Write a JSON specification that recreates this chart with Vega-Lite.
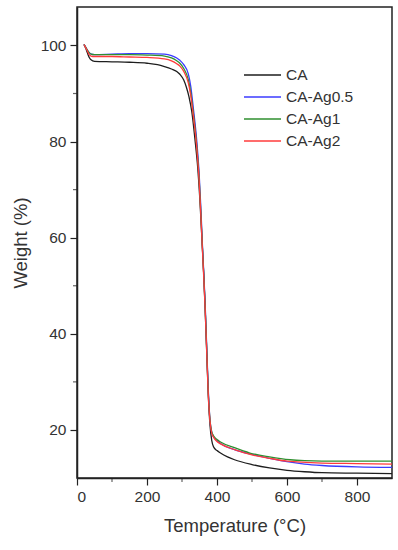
{
  "$schema": "https://vega.github.io/schema/vega-lite/v6.json",
  "autosize": "none",
  "padding": {"left": 77, "top": 7, "right": 6, "bottom": 72},
  "width": 315,
  "height": 471,
  "background": "white",
  "config": {
    "view": {"stroke": "#222", "strokeWidth": 1.5},
    "font": "Liberation Sans",
    "axis": {
      "domainColor": "#222",
      "domainWidth": 1.5,
      "tickColor": "#222",
      "tickWidth": 1.2,
      "tickSize": 7,
      "labelFontSize": 15.5,
      "labelColor": "#333",
      "titleFontSize": 18.5,
      "titleFontWeight": "normal",
      "titleColor": "#333",
      "grid": false
    }
  },
  "datasets": {
    "tga": [
      {"s":"CA","t":20,"w":100.2},{"s":"CA","t":25,"w":99.4},{"s":"CA","t":30,"w":98.4},{"s":"CA","t":35,"w":97.5},{"s":"CA","t":40,"w":97.0},{"s":"CA","t":50,"w":96.7},{"s":"CA","t":100,"w":96.6},{"s":"CA","t":150,"w":96.5},{"s":"CA","t":200,"w":96.3},{"s":"CA","t":230,"w":96.0},{"s":"CA","t":250,"w":95.6},{"s":"CA","t":270,"w":95.1},{"s":"CA","t":285,"w":94.6},{"s":"CA","t":294,"w":94.0},{"s":"CA","t":305,"w":92.8},{"s":"CA","t":313,"w":91.2},{"s":"CA","t":320,"w":89.3},{"s":"CA","t":328,"w":86.2},{"s":"CA","t":337,"w":80.5},{"s":"CA","t":345,"w":74.5},{"s":"CA","t":351,"w":68.0},{"s":"CA","t":356,"w":61.0},{"s":"CA","t":362,"w":52.5},{"s":"CA","t":366,"w":45.5},{"s":"CA","t":370,"w":37.5},{"s":"CA","t":375,"w":27.5},{"s":"CA","t":380,"w":21.0},{"s":"CA","t":385,"w":17.8},{"s":"CA","t":390,"w":16.5},{"s":"CA","t":400,"w":15.7},{"s":"CA","t":410,"w":15.2},{"s":"CA","t":430,"w":14.4},{"s":"CA","t":450,"w":13.8},{"s":"CA","t":500,"w":12.8},{"s":"CA","t":550,"w":12.1},{"s":"CA","t":600,"w":11.6},{"s":"CA","t":650,"w":11.3},{"s":"CA","t":700,"w":11.1},{"s":"CA","t":800,"w":11.0},{"s":"CA","t":900,"w":10.9},

      {"s":"CA-Ag0.5","t":20,"w":100.2},{"s":"CA-Ag0.5","t":25,"w":99.6},{"s":"CA-Ag0.5","t":30,"w":99.0},{"s":"CA-Ag0.5","t":35,"w":98.5},{"s":"CA-Ag0.5","t":40,"w":98.2},{"s":"CA-Ag0.5","t":50,"w":98.1},{"s":"CA-Ag0.5","t":100,"w":98.2},{"s":"CA-Ag0.5","t":150,"w":98.3},{"s":"CA-Ag0.5","t":200,"w":98.3},{"s":"CA-Ag0.5","t":250,"w":98.2},{"s":"CA-Ag0.5","t":270,"w":97.9},{"s":"CA-Ag0.5","t":285,"w":97.4},{"s":"CA-Ag0.5","t":294,"w":96.9},{"s":"CA-Ag0.5","t":305,"w":96.0},{"s":"CA-Ag0.5","t":318,"w":94.1},{"s":"CA-Ag0.5","t":325,"w":91.5},{"s":"CA-Ag0.5","t":332,"w":87.2},{"s":"CA-Ag0.5","t":342,"w":80.3},{"s":"CA-Ag0.5","t":349,"w":73.3},{"s":"CA-Ag0.5","t":354,"w":66.0},{"s":"CA-Ag0.5","t":358,"w":59.0},{"s":"CA-Ag0.5","t":362,"w":53.0},{"s":"CA-Ag0.5","t":366,"w":46.5},{"s":"CA-Ag0.5","t":370,"w":38.5},{"s":"CA-Ag0.5","t":375,"w":28.5},{"s":"CA-Ag0.5","t":380,"w":22.0},{"s":"CA-Ag0.5","t":385,"w":19.5},{"s":"CA-Ag0.5","t":390,"w":18.6},{"s":"CA-Ag0.5","t":400,"w":17.8},{"s":"CA-Ag0.5","t":410,"w":17.2},{"s":"CA-Ag0.5","t":450,"w":15.9},{"s":"CA-Ag0.5","t":500,"w":14.9},{"s":"CA-Ag0.5","t":550,"w":14.1},{"s":"CA-Ag0.5","t":600,"w":13.4},{"s":"CA-Ag0.5","t":650,"w":12.9},{"s":"CA-Ag0.5","t":700,"w":12.6},{"s":"CA-Ag0.5","t":800,"w":12.3},{"s":"CA-Ag0.5","t":900,"w":12.2},

      {"s":"CA-Ag1","t":20,"w":100.2},{"s":"CA-Ag1","t":25,"w":99.6},{"s":"CA-Ag1","t":30,"w":99.0},{"s":"CA-Ag1","t":35,"w":98.5},{"s":"CA-Ag1","t":40,"w":98.2},{"s":"CA-Ag1","t":50,"w":98.1},{"s":"CA-Ag1","t":100,"w":98.1},{"s":"CA-Ag1","t":150,"w":98.1},{"s":"CA-Ag1","t":200,"w":98.0},{"s":"CA-Ag1","t":250,"w":97.8},{"s":"CA-Ag1","t":270,"w":97.4},{"s":"CA-Ag1","t":285,"w":96.8},{"s":"CA-Ag1","t":294,"w":96.3},{"s":"CA-Ag1","t":305,"w":95.2},{"s":"CA-Ag1","t":318,"w":92.9},{"s":"CA-Ag1","t":325,"w":90.2},{"s":"CA-Ag1","t":332,"w":86.2},{"s":"CA-Ag1","t":342,"w":79.3},{"s":"CA-Ag1","t":349,"w":72.3},{"s":"CA-Ag1","t":354,"w":65.0},{"s":"CA-Ag1","t":358,"w":58.5},{"s":"CA-Ag1","t":362,"w":52.5},{"s":"CA-Ag1","t":366,"w":46.0},{"s":"CA-Ag1","t":370,"w":38.0},{"s":"CA-Ag1","t":375,"w":28.0},{"s":"CA-Ag1","t":380,"w":22.0},{"s":"CA-Ag1","t":385,"w":19.6},{"s":"CA-Ag1","t":390,"w":18.8},{"s":"CA-Ag1","t":400,"w":18.0},{"s":"CA-Ag1","t":410,"w":17.5},{"s":"CA-Ag1","t":450,"w":16.3},{"s":"CA-Ag1","t":494,"w":15.2},{"s":"CA-Ag1","t":550,"w":14.4},{"s":"CA-Ag1","t":609,"w":13.8},{"s":"CA-Ag1","t":650,"w":13.6},{"s":"CA-Ag1","t":700,"w":13.5},{"s":"CA-Ag1","t":800,"w":13.5},{"s":"CA-Ag1","t":900,"w":13.5},

      {"s":"CA-Ag2","t":20,"w":100.2},{"s":"CA-Ag2","t":25,"w":99.5},{"s":"CA-Ag2","t":30,"w":98.8},{"s":"CA-Ag2","t":35,"w":98.1},{"s":"CA-Ag2","t":40,"w":97.8},{"s":"CA-Ag2","t":50,"w":97.7},{"s":"CA-Ag2","t":100,"w":97.7},{"s":"CA-Ag2","t":150,"w":97.6},{"s":"CA-Ag2","t":200,"w":97.5},{"s":"CA-Ag2","t":250,"w":97.2},{"s":"CA-Ag2","t":270,"w":96.8},{"s":"CA-Ag2","t":285,"w":96.2},{"s":"CA-Ag2","t":294,"w":95.7},{"s":"CA-Ag2","t":305,"w":94.6},{"s":"CA-Ag2","t":318,"w":92.2},{"s":"CA-Ag2","t":325,"w":89.6},{"s":"CA-Ag2","t":332,"w":85.6},{"s":"CA-Ag2","t":342,"w":78.8},{"s":"CA-Ag2","t":349,"w":71.8},{"s":"CA-Ag2","t":354,"w":64.5},{"s":"CA-Ag2","t":358,"w":58.0},{"s":"CA-Ag2","t":362,"w":52.0},{"s":"CA-Ag2","t":366,"w":45.5},{"s":"CA-Ag2","t":370,"w":37.5},{"s":"CA-Ag2","t":375,"w":27.5},{"s":"CA-Ag2","t":380,"w":21.8},{"s":"CA-Ag2","t":385,"w":19.3},{"s":"CA-Ag2","t":390,"w":18.5},{"s":"CA-Ag2","t":400,"w":17.6},{"s":"CA-Ag2","t":410,"w":17.1},{"s":"CA-Ag2","t":450,"w":15.9},{"s":"CA-Ag2","t":500,"w":14.8},{"s":"CA-Ag2","t":550,"w":14.1},{"s":"CA-Ag2","t":600,"w":13.5},{"s":"CA-Ag2","t":700,"w":13.1},{"s":"CA-Ag2","t":800,"w":13.0},{"s":"CA-Ag2","t":900,"w":12.9}
    ],
    "xminor": [{"v":100},{"v":300},{"v":500},{"v":700}],
    "yminor": [{"v":30},{"v":50},{"v":70},{"v":90}]
  },
  "layer": [
    {
      "data": {"name": "tga"},
      "mark": {"type": "line", "interpolate": "monotone", "strokeWidth": 1.3, "clip": true},
      "encoding": {
        "x": {
          "field": "t", "type": "quantitative",
          "scale": {"domain": [0, 900], "nice": false, "zero": false},
          "axis": {"values": [0, 200, 400, 600, 800], "title": "Temperature (°C)", "labelPadding": 4, "titlePadding": 12}
        },
        "y": {
          "field": "w", "type": "quantitative",
          "scale": {"domain": [10, 108], "nice": false, "zero": false},
          "axis": {"values": [20, 40, 60, 80, 100], "title": "Weight (%)", "labelPadding": 4, "titlePadding": 10}
        },
        "color": {
          "field": "s", "type": "nominal",
          "sort": ["CA", "CA-Ag0.5", "CA-Ag1", "CA-Ag2"],
          "scale": {"domain": ["CA", "CA-Ag0.5", "CA-Ag1", "CA-Ag2"], "range": ["#1e1e1e", "#3b3bff", "#2f8f2f", "#ff3b3b"]},
          "legend": {
            "orient": "none", "legendX": 166, "legendY": 60,
            "title": null,
            "symbolType": "stroke", "symbolSize": 1369, "symbolStrokeWidth": 1.3,
            "clipHeight": 16,
            "labelFontSize": 15.5, "labelColor": "#333", "labelOffset": 4,
            "rowPadding": 5
          }
        },
        "order": {"field": "s", "type": "nominal"}
      }
    },
    {
      "data": {"name": "xminor"},
      "mark": {"type": "tick", "orient": "vertical", "color": "#222", "thickness": 1.2, "size": 4, "yOffset": 2},
      "encoding": {
        "x": {"field": "v", "type": "quantitative"},
        "y": {"datum": 10}
      }
    },
    {
      "data": {"name": "yminor"},
      "mark": {"type": "tick", "orient": "horizontal", "color": "#222", "thickness": 1.2, "size": 4, "xOffset": -2},
      "encoding": {
        "y": {"field": "v", "type": "quantitative"},
        "x": {"datum": 0}
      }
    }
  ]
}
